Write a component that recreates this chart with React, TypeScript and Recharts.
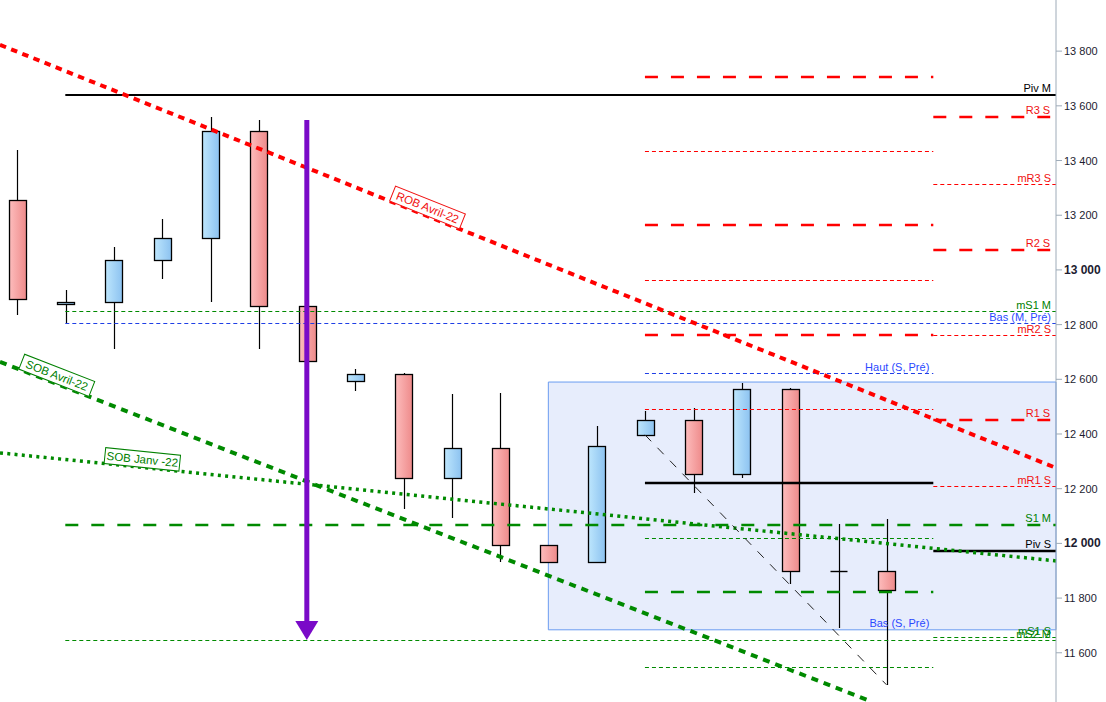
import React from 'react';
import { ComposedChart, Bar, XAxis, YAxis, ReferenceLine, ReferenceArea } from 'recharts';

// ---------- data ----------
const candleIndex = [0, 1, 2, 3, 4, 5, 6, 7, 8, 9, 10, 11, 12, 13, 14, 15, 16, 17, 18];
const opens = [13256, 12876, 12883, 13037, 13117, 13508, 12868, 12594, 12620, 12239, 12349, 11995, 11932, 12397, 12452, 12254, 12565, 11899, 11899];
const highs = [13439, 12927, 13084, 13186, 13559, 13548, 12870, 12638, 12623, 12547, 12550, 11995, 12430, 12484, 12495, 12587, 12569, 12071, 12090];
const lows = [12835, 12806, 12711, 12967, 12883, 12711, 12667, 12558, 12126, 12093, 11932, 11932, 11932, 12397, 12185, 12239, 11852, 11691, 11483];
const closes = [12894, 12883, 13037, 13117, 13508, 12868, 12667, 12620, 12239, 12349, 11995, 11932, 12356, 12452, 12254, 12565, 11899, 11899, 11830];

const yTicks = [11600, 11800, 12000, 12200, 12400, 12600, 12800, 13000, 13200, 13400, 13600, 13800];
const boldTicks = [12000, 13000];

const X_MIN = -0.352;
const X_MAX = 21.51;
const Y_MIN = 11420;
const Y_MAX = 13987;

const MONTH_START = 1;
const WEEK_START = 13;
const WEEK_END = 18.97;
const LABEL_END = 21.39;

const levelText = ['Piv M', '', 'R3 S', '', 'mR3 S', '', 'R2 S', '', 'mS1 M', 'Bas (M, Pré)', 'mR2 S', '', 'Haut (S, Pré)', '', 'R1 S', '', 'mR1 S', 'S1 M', '', 'Piv S', '', 'Bas (S, Pré)', 'mS1 S', 'mS2 M', ''];
const levelValue = [13640, 13706, 13559, 13435, 13314, 13165, 13073, 12963, 12850, 12806, 12762, 12762, 12623, 12492, 12452, 12221, 12210, 12068, 12020, 11973, 11823, 11684, 11658, 11648, 11548];
const levelFrom = [MONTH_START, WEEK_START, WEEK_END, WEEK_START, WEEK_END, WEEK_START, WEEK_END, WEEK_START, MONTH_START, MONTH_START, WEEK_END, WEEK_START, WEEK_START, WEEK_START, WEEK_END, WEEK_START, WEEK_END, MONTH_START, WEEK_START, WEEK_END, WEEK_START, WEEK_START, WEEK_END, MONTH_START, WEEK_START];
const levelTo = [X_MAX, WEEK_END, LABEL_END, WEEK_END, X_MAX, WEEK_END, LABEL_END, WEEK_END, X_MAX, X_MAX, X_MAX, WEEK_END, WEEK_END, WEEK_END, LABEL_END, WEEK_END, X_MAX, X_MAX, WEEK_END, X_MAX, WEEK_END, WEEK_END, X_MAX, X_MAX, WEEK_END];
const levelKind = ['black', 'redLong', 'redLong', 'redShort', 'redShort', 'redLong', 'redLong', 'redShort', 'greenShort', 'blueShort', 'redShort', 'redLong', 'blueShort', 'redShort', 'redLong', 'blackThick', 'redShort', 'greenLong', 'greenShort', 'blackThick', 'greenLong', 'blueNone', 'greenShort', 'greenShort', 'greenShort'];

const trendNames = ['ROB Avril-22', 'SOB Avril-22', 'SOB Janv -22', ''];
const trendX1 = [X_MIN, X_MIN, X_MIN, 13];
const trendY1 = [13823, 12664, 12331, 12397];
const trendX2 = [X_MAX, 17.64, X_MAX, 18];
const trendY2 = [12276, 11425, 11936, 11483];
const trendLabelAt = [0.402, 0.062, 0.134, 0];
const trendKind = ['red', 'green', 'greenDot', 'blackThin'];

const arrowX = 6;
const arrowFrom = 13548;
const arrowTo = 11647;

const zoneX1 = 11;
const zoneLow = 11684;
const zoneHigh = 12590;

// ---------- styles ----------
const FONT = '"Liberation Sans", Arial, sans-serif';
const RED = '#ff0000';
const GREEN = '#008a00';
const BLUE = '#1f3fe6';
const LINE_STYLE: Record<string, any> = {
  black: { stroke: '#000', strokeWidth: 2 },
  blackThick: { stroke: '#000', strokeWidth: 2.5 },
  redLong: { stroke: RED, strokeWidth: 2.5, strokeDasharray: '13 13' },
  redShort: { stroke: RED, strokeWidth: 1, strokeDasharray: '4 3' },
  greenLong: { stroke: GREEN, strokeWidth: 2.5, strokeDasharray: '13 13' },
  greenShort: { stroke: GREEN, strokeWidth: 1, strokeDasharray: '4 3' },
  blueShort: { stroke: BLUE, strokeWidth: 1, strokeDasharray: '4 3' },
  blueNone: { stroke: 'none' },
};
const TEXT_COLOR: Record<string, string> = {
  black: '#000', blackThick: '#000', redLong: '#f01010', redShort: '#f01010',
  greenLong: '#008000', greenShort: '#008000', blueShort: '#2a48ff', blueNone: '#2a48ff',
};
const TREND_STYLE: Record<string, any> = {
  red: { stroke: RED, strokeWidth: 4, strokeDasharray: '6.5 5.5' },
  green: { stroke: GREEN, strokeWidth: 4, strokeDasharray: '7 6' },
  greenDot: { stroke: GREEN, strokeWidth: 3.5, strokeDasharray: '3 4.3' },
  blackThin: { stroke: '#222', strokeWidth: 1, strokeDasharray: '9 9' },
};
const TREND_TEXT: Record<string, string> = { red: '#f01010', green: '#008000', greenDot: '#008000', blackThin: '#000' };

const data = candleIndex.map((i, k) => ({
  i,
  open: opens[k],
  high: highs[k],
  low: lows[k],
  close: closes[k],
  range: [lows[k], highs[k]],
}));

const CandleShape = (props: any) => {
  const { x, y, width, height, payload } = props;
  if (!payload) return null;
  let top = y;
  let h = height;
  if (h < 0) {
    top = y + h;
    h = -h;
  }
  const { open, close, high, low } = payload;
  const span = high - low;
  const toY = (v: number) => (span === 0 ? top : top + ((high - v) / span) * h);
  const cx = Math.round(x + width / 2) + 0.5;
  const bx = Math.round(x) + 0.5;
  const bTop = Math.round(toY(Math.max(open, close))) + 0.5;
  const bBot = Math.round(toY(Math.min(open, close))) + 0.5;
  const up = close >= open;
  return (
    <g>
      <line x1={cx} x2={cx} y1={Math.round(top)} y2={Math.round(top + h)} stroke="#000" strokeWidth={1.2} />
      {open === close ? (
        <line x1={bx} x2={bx + width} y1={bTop} y2={bTop} stroke="#000" strokeWidth={1.4} />
      ) : (
        <rect
          x={bx}
          y={bTop}
          width={width}
          height={Math.max(bBot - bTop, 1)}
          fill={up ? 'url(#candleUp)' : 'url(#candleDown)'}
          stroke="#000"
          strokeWidth={1.3}
        />
      )}
    </g>
  );
};

const AxisTick = (props: any) => {
  const { x, y, payload } = props;
  const v = payload.value;
  const bold = boldTicks.includes(v);
  const label = `${Math.floor(v / 1000)} ${String(v % 1000).padStart(3, '0')}`;
  return (
    <text
      x={x}
      y={y}
      dy={4}
      textAnchor="start"
      fill="#1c1c30"
      fontSize={bold ? 12 : 11}
      fontWeight={bold ? 'bold' : 'normal'}
      fontFamily={FONT}
    >
      {label}
    </text>
  );
};

const levelShape = (k: number) => (p: any) => {
  const { x1, y1, x2 } = p;
  const kind = levelKind[k];
  const st = LINE_STYLE[kind];
  const to = levelTo[k];
  const dx = to === X_MAX ? -5 : to === LABEL_END ? 0 : -4;
  const yy = st.strokeWidth === 1 ? Math.round(y1) + 0.5 : Math.round(y1);
  return (
    <g>
      <line x1={x1} y1={yy} x2={x2} y2={yy} fill="none" {...st} />
      {levelText[k] ? (
        <text
          x={Math.max(x1, x2) + dx}
          y={yy - 3}
          textAnchor="end"
          fill={TEXT_COLOR[kind]}
          fontSize={11}
          fontFamily={FONT}
        >
          {levelText[k]}
        </text>
      ) : null}
    </g>
  );
};

const trendShape = (k: number) => (p: any) => {
  const { x1, y1, x2, y2 } = p;
  const kind = trendKind[k];
  const name = trendNames[k];
  let label = null;
  if (name) {
    const t = trendLabelAt[k];
    const px = x1 + (x2 - x1) * t;
    const py = y1 + (y2 - y1) * t;
    const ang = (Math.atan2(y2 - y1, x2 - x1) * 180) / Math.PI;
    const w = name.length * 5.6 + 8;
    const h = 16;
    label = (
      <g transform={`translate(${px},${py}) rotate(${ang})`}>
        <rect x={-w / 2} y={-h} width={w} height={h} fill="#fff" stroke={TREND_TEXT[kind]} strokeWidth={1} />
        <text x={0} y={-4} textAnchor="middle" fill={TREND_TEXT[kind]} fontSize={11.5} fontFamily={FONT}>
          {name}
        </text>
      </g>
    );
  }
  return (
    <g>
      <line x1={x1} y1={y1} x2={x2} y2={y2} fill="none" {...TREND_STYLE[kind]} />
      {label}
    </g>
  );
};

const arrowShape = (p: any) => {
  const { x1, y1, x2, y2 } = p;
  const topY = Math.min(y1, y2);
  const tipY = Math.max(y1, y2);
  const color = '#7a0ac8';
  return (
    <g>
      <line x1={x1} x2={x2} y1={topY} y2={tipY - 16} stroke={color} strokeWidth={5} />
      <path d={`M ${x1 - 11.5} ${tipY - 19} L ${x1 + 11.5} ${tipY - 19} L ${x1} ${tipY} Z`} fill={color} />
    </g>
  );
};

export default function App() {
  return (
    <div style={{ position: 'absolute', left: 0, top: 0, background: '#fff' }}>
      <ComposedChart width={1106} height={702} data={data} margin={{ top: 0, right: 0, bottom: 0, left: 0 }}>
        <defs>
          <linearGradient id="candleUp" x1="0" y1="0" x2="1" y2="0">
            <stop offset="0%" stopColor="#bde6fd" />
            <stop offset="100%" stopColor="#8cc2f0" />
          </linearGradient>
          <linearGradient id="candleDown" x1="0" y1="0" x2="1" y2="0">
            <stop offset="0%" stopColor="#fdbcbc" />
            <stop offset="100%" stopColor="#ee8a8a" />
          </linearGradient>
        </defs>
        <XAxis type="number" dataKey="i" domain={[X_MIN, X_MAX]} hide allowDataOverflow />
        <YAxis
          orientation="right"
          domain={[Y_MIN, Y_MAX]}
          ticks={yTicks}
          interval={0}
          width={50}
          allowDataOverflow
          tick={<AxisTick />}
          stroke="#9eabb8"
          tickLine={{ stroke: '#9eabb8' }}
        />
        <ReferenceArea
          x1={zoneX1}
          x2={X_MAX}
          y1={zoneLow}
          y2={zoneHigh}
          fill="#e7edfc"
          fillOpacity={1}
          stroke="#6a9cf0"
          strokeWidth={1}
          ifOverflow="visible"
        />
        <Bar dataKey="range" barSize={17} shape={<CandleShape />} isAnimationActive={false} />
        {levelValue.map((v, k) => (
          <ReferenceLine
            key={`lvl${k}`}
            segment={[{ x: levelFrom[k], y: v }, { x: levelTo[k], y: v }]}
            ifOverflow="visible"
            shape={levelShape(k)}
          />
        ))}
        {trendNames.map((n, k) => (
          <ReferenceLine
            key={`tr${k}`}
            segment={[{ x: trendX1[k], y: trendY1[k] }, { x: trendX2[k], y: trendY2[k] }]}
            ifOverflow="visible"
            shape={trendShape(k)}
          />
        ))}
        <ReferenceLine
          segment={[{ x: arrowX, y: arrowFrom }, { x: arrowX, y: arrowTo }]}
          ifOverflow="visible"
          shape={arrowShape}
        />
      </ComposedChart>
    </div>
  );
}
